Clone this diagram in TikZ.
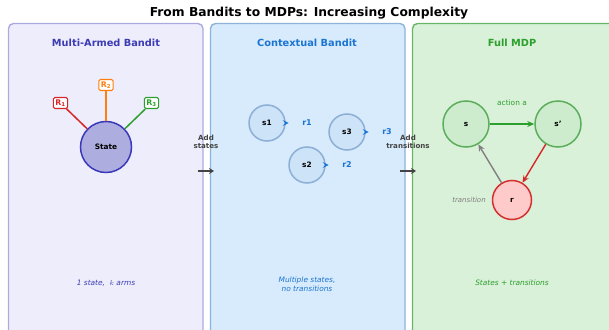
\documentclass[tikz,border=0pt]{standalone}
\usepackage{fontspec}
\setmainfont{DejaVu Sans}
\usetikzlibrary{arrows.meta}
\definecolor{panelAfill}{HTML}{EEEDFC}
\definecolor{panelAline}{HTML}{ABAADF}
\definecolor{panelBfill}{HTML}{D7EBFC}
\definecolor{panelBline}{HTML}{8EB2D8}
\definecolor{panelCfill}{HTML}{D9F0D9}
\definecolor{panelCline}{HTML}{68B468}
\definecolor{indigoT}{HTML}{3B3BB3}
\definecolor{blueT}{HTML}{1B74D2}
\definecolor{greenT}{HTML}{2CA02C}
\definecolor{stateFill}{HTML}{ADADE0}
\definecolor{stateLine}{HTML}{3A3AB8}
\definecolor{ctxFill}{HTML}{CDE3F8}
\definecolor{ctxLine}{HTML}{8DAFD5}
\definecolor{mdpFill}{HTML}{CDEBCD}
\definecolor{mdpLine}{HTML}{5CAE5C}
\definecolor{rwdFill}{HTML}{FFCACA}
\definecolor{rwdLine}{HTML}{D62F2F}
\definecolor{armRed}{HTML}{D62728}
\definecolor{armOrange}{HTML}{FF7F0E}
\definecolor{armGreen}{HTML}{2CA02C}
\definecolor{darkG}{HTML}{444444}
\tikzset{
  panel/.style={rounded corners=5pt, line width=1.4pt},
  ptitle/.style={font=\fontsize{9.8}{11}\selectfont\bfseries},
  caption/.style={font=\fontsize{7.4}{8.8}\selectfont\itshape, align=center},
  statecircle/.style={circle, line width=1.5pt, inner sep=0pt,
    font=\fontsize{7.4}{8}\selectfont\bfseries},
  armbox/.style={draw, fill=white, rounded corners=1.5pt, line width=1.1pt,
    inner sep=2pt, font=\fontsize{7.8}{8}\selectfont\bfseries},
  steplabel/.style={font=\fontsize{7.1}{8}\selectfont\bfseries, text=darkG,
    align=center},
  rlabel/.style={font=\fontsize{8}{9}\selectfont\bfseries, text=blueT},
}
\begin{document}
\begin{tikzpicture}[x=1pt, y=-1pt]
\useasboundingbox (0,0) rectangle (609,329);
\begin{scope}
\clip (0,0) rectangle (609,329);
% three panels
\draw[panel, fill=panelAfill, draw=panelAline] (8.5,23.5) rectangle (203,345);
\draw[panel, fill=panelBfill, draw=panelBline] (210.5,23.5) rectangle (405,345);
\draw[panel, fill=panelCfill, draw=panelCline] (412.5,23.5) rectangle (640,345);
\end{scope}

\node[font=\fontsize{12.3}{14}\selectfont\bfseries] (title) at (309,13) {From Bandits to MDPs: Increasing Complexity};

% panel 1: multi-armed bandit
\node[ptitle, text=indigoT] (tA) at (106,43) {Multi-Armed Bandit};
\node[statecircle, draw=stateLine, fill=stateFill, minimum size=51pt] (state) at (106,147) {State};
\node[armbox, draw=armRed, text=armRed] (R1) at (60.5,103) {R\textsubscript{1}};
\node[armbox, draw=armOrange, text=armOrange] (R2) at (106,85) {R\textsubscript{2}};
\node[armbox, draw=armGreen, text=armGreen] (R3) at (151.5,103) {R\textsubscript{3}};
\draw[armRed, line width=1.5pt] (state) -- (R1);
\draw[armOrange, line width=1.5pt] (state) -- (R2);
\draw[armGreen, line width=1.5pt] (state) -- (R3);
\node[caption, text=indigoT] (cA) at (106,283) {1 state,\ \ $k$ arms};

% panel 2: contextual bandit
\node[ptitle, text=blueT] (tB) at (307,43) {Contextual Bandit};
\node[statecircle, draw=ctxLine, fill=ctxFill, minimum size=36pt] (s1) at (267,123) {s1};
\node[statecircle, draw=ctxLine, fill=ctxFill, minimum size=36pt] (s3) at (347,132) {s3};
\node[statecircle, draw=ctxLine, fill=ctxFill, minimum size=36pt] (s2) at (307,165) {s2};
\node[rlabel] (r1) at (307,123) {r1};
\node[rlabel] (r3) at (387,132) {r3};
\node[rlabel] (r2) at (347,165) {r2};
\foreach \s/\r in {s1/r1, s2/r2, s3/r3}
  \draw[blueT, line width=1pt, -{Stealth[length=6pt, width=6pt, inset=2.5pt]},
        shorten >=10pt] (\s.east) -- (\r.west);
\node[caption, text=blueT] (cB) at (307,284) {Multiple states,\\no transitions};

% panel 3: full MDP
\node[ptitle, text=greenT] (tC) at (512,43) {Full MDP};
\node[statecircle, draw=mdpLine, fill=mdpFill, minimum size=46pt] (s) at (466,124) {s};
\node[statecircle, draw=mdpLine, fill=mdpFill, minimum size=46pt] (sp) at (558,124) {s'};
\node[statecircle, draw=rwdLine, fill=rwdFill, minimum size=39pt] (r) at (512,200) {r};
\draw[greenT, line width=1.6pt, -{Stealth[length=7pt, width=6pt]}] (s) -- (sp);
\draw[armRed, line width=1.4pt, -{Stealth[length=7pt, width=6pt]}] (sp) -- (r);
\draw[gray, line width=1.4pt, -{Stealth[length=7pt, width=6pt]}] (r) -- (s);
\node[font=\fontsize{7.4}{8}\selectfont, text=greenT] (act) at (512,103) {action a};
\node[font=\fontsize{7}{8}\selectfont\itshape, text=gray] (trn) at (469,200) {transition};
\node[caption, text=greenT] (cC) at (512,283) {States + transitions};

% transitions between panels
\node[steplabel] (addA) at (206,142) {Add\\states};
\node[steplabel] (addB) at (408,142) {Add\\transitions};
\coordinate (a1) at (198,171); \coordinate (a2) at (214,171);
\coordinate (b1) at (400,171); \coordinate (b2) at (416,171);
\draw[darkG, line width=2pt, -{Stealth[length=5pt, width=6pt]}] (a1) -- (a2);
\draw[darkG, line width=2pt, -{Stealth[length=5pt, width=6pt]}] (b1) -- (b2);
\end{tikzpicture}
\end{document}
